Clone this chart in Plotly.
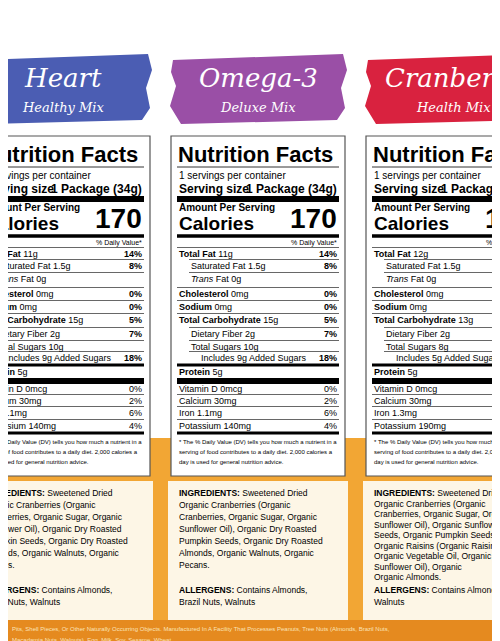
import plotly.graph_objects as go

W, H = 500, 641

# label data
mix_names = [("Heart", "Healthy Mix"), ("Omega-3", "Deluxe Mix"), ("Cranberry", "Health Mix")]
banner_colors = ["#4b5db3", "#9a4fa6", "#d9223f"]
panel_left = [-32, 163, 358]
calories = ["170", "170", "170"]
serving_size = "1 Package (34g)"

row_names = ["<b>Total Fat</b>", "Saturated Fat", "<i>Trans</i> Fat", "<b>Cholesterol</b>", "<b>Sodium</b>",
             "<b>Total Carbohydrate</b>", "Dietary Fiber", "Total Sugars", "Includes", "<b>Protein</b>"]
row_indent = [0, 1, 1, 0, 0, 0, 1, 1, 2, 0]
amounts_a = ["11g", "1.5g", "0g", "0mg", "0mg", "15g", "2g", "10g", "9g Added Sugars", "5g"]
amounts_c = ["12g", "1.5g", "0g", "0mg", "0mg", "13g", "2g", "8g", "5g Added Sugars", "5g"]
dv_a = ["14%", "8%", "", "0%", "0%", "5%", "7%", "", "18%", ""]
dv_c = ["15%", "8%", "", "0%", "0%", "5%", "7%", "", "10%", ""]
row_y = [246, 258, 271, 286, 299, 312, 326, 339, 350, 364]

vit_names = ["Vitamin D", "Calcium", "Iron", "Potassium"]
vit_a = ["0mcg", "30mg", "1.1mg", "140mg"]
vit_c = ["0mcg", "30mg", "1.3mg", "190mg"]
vit_dv_a = ["0%", "2%", "6%", "4%"]
vit_dv_c = ["0%", "2%", "8%", "4%"]
vit_y = [381, 393, 405, 418]

footnote = ["* The % Daily Value (DV) tells you how much a nutrient in a",
            "serving of food contributes to a daily diet. 2,000 calories a",
            "day is used for general nutrition advice."]

ingredients_a = ["<b>INGREDIENTS:</b> Sweetened Dried", "Organic Cranberries (Organic",
                 "Cranberries, Organic Sugar, Organic", "Sunflower Oil), Organic Dry Roasted",
                 "Pumpkin Seeds, Organic Dry Roasted", "Almonds, Organic Walnuts, Organic", "Pecans."]
ingredients_c = ["<b>INGREDIENTS:</b> Sweetened Dried", "Organic Cranberries (Organic",
                 "Cranberries, Organic Sugar, Organic", "Sunflower Oil), Organic Sunflower",
                 "Seeds, Organic Pumpkin Seeds,", "Organic Raisins (Organic Raisins,",
                 "Organic Vegetable Oil, Organic", "Sunflower Oil), Organic", "Organic Almonds."]
allergens_a = ["<b>ALLERGENS:</b> Contains Almonds,", "Brazil Nuts, Walnuts"]
allergens_c = ["<b>ALLERGENS:</b> Contains Almonds,", "Walnuts"]

bottom_text = ["Pits, Shell Pieces, Or Other Naturally Occurring Objects. Manufactured In A Facility That Processes Peanuts, Tree Nuts (Almonds, Brazil Nuts,",
               "Macadamia Nuts, Walnuts), Egg, Milk, Soy, Sesame, Wheat."]

FONT = "Liberation Sans, Arial"
px = lambda x: x / W
py = lambda y: 1 - y / H

fig = go.Figure()
shapes, annos = [], []


def rect(x0, y0, x1, y1, fill):
    shapes.append(dict(type="rect", xref="paper", yref="paper", x0=px(x0), x1=px(x1), y0=py(y1), y1=py(y0),
                       fillcolor=fill, line=dict(color=fill, width=0), layer="below"))


def hline(x0, x1, y, w):
    shapes.append(dict(type="line", xref="paper", yref="paper", x0=px(x0), x1=px(x1), y0=py(y), y1=py(y),
                       line=dict(color="black", width=w)))


def text(x, y, s, size=10, anchor="left", color="black", family=FONT):
    annos.append(dict(xref="paper", yref="paper", x=px(x), y=py(y), text=s, showarrow=False,
                      xanchor=anchor, yanchor="middle", font=dict(size=size, color=color, family=family)))


# background
rect(-5, -5, 505, 646, "white")
rect(-5, 430, 505, 646, "#f2a634")
rect(-5, 612, 505, 646, "#e58a1f")
for i, s in enumerate(bottom_text):
    text(2, 621 + i * 11, s, size=6, color="#fbe3b8")

for k, x0 in enumerate(panel_left):
    x1 = x0 + 174
    c = k == 2
    am, dv = (amounts_c, dv_c) if c else (amounts_a, dv_a)
    va, vd = (vit_c, vit_dv_c) if c else (vit_a, vit_dv_a)
    ing, alg = (ingredients_c, allergens_c) if c else (ingredients_a, allergens_a)

    # brush banner
    bx0, bx1 = x0 + 2, x1 - 2
    path = (f"M {px(bx0)},{py(52)} L {px(bx1)},{py(46)} L {px(bx1 + 4)},{py(62)} L {px(bx1 - 2)},{py(80)} "
            f"L {px(bx1 + 2)},{py(100)} L {px(bx1 - 6)},{py(112)} L {px(bx0 + 8)},{py(116)} "
            f"L {px(bx0 - 3)},{py(98)} L {px(bx0 + 3)},{py(78)} L {px(bx0 - 2)},{py(64)} Z")
    shapes.append(dict(type="path", xref="paper", yref="paper", path=path,
                       fillcolor=banner_colors[k], line=dict(width=0), layer="below"))
    cx = (x0 + x1) / 2
    text(cx, 70, f"<i>{mix_names[k][0]}</i>", size=26, anchor="center", color="white", family="DejaVu Serif")
    text(cx, 100, f"<i>{mix_names[k][1]}</i>", size=13, anchor="center", color="white", family="DejaVu Serif")

    # label card
    shapes.append(dict(type="rect", xref="paper", yref="paper", x0=px(x0), x1=px(x1), y0=py(468), y1=py(128),
                       fillcolor="white", line=dict(color="#555", width=1.2), layer="below"))
    L, R = x0 + 6, x1 - 6
    text(L - 1, 146, "<b>Nutrition Facts</b>", size=22)
    hline(L, R, 159, 0.8)
    text(L, 167, "1 servings per container", size=10)
    text(L, 181, "<b>Serving size</b>", size=12)
    text(R, 181, f"<b>{serving_size}</b>", size=12, anchor="right")
    hline(L, R, 191, 6)
    text(L, 200, "<b>Amount Per Serving</b>", size=10)
    text(L, 215, "<b>Calories</b>", size=19)
    text(R, 210, f"<b>{calories[k]}</b>", size=28, anchor="right")
    hline(L, R, 228, 3.5)
    text(R, 235, "% Daily Value*", size=7, anchor="right")
    for i, nm in enumerate(row_names):
        y = row_y[i]
        hline(L + (12 if row_indent[i] else 0), R, y - 6.5, 0.6)
        ind = [0, 12, 22][row_indent[i]]
        if i == 9:
            hline(L, R, y - 7, 3)
        text(L + ind, y, f"{nm} {am[i]}", size=9)
        if dv[i]:
            text(R, y, f"<b>{dv[i]}</b>", size=9, anchor="right")
    hline(L, R, 373, 6)
    for i, nm in enumerate(vit_names):
        y = vit_y[i]
        if i:
            hline(L, R, y - 6.5, 0.6)
        text(L, y, f"{nm} {va[i]}", size=9)
        text(R, y, vd[i], size=9, anchor="right")
    hline(L, R, 425, 3)
    for i, s in enumerate(footnote):
        text(L, 434 + i * 10, s, size=6)

    # ingredients card
    rect(x0 - 3, 473, x1 + 3, 612, "#fdf6e6")
    step = 10.5 if c else 12
    for i, s in enumerate(ing):
        text(L, 485 + i * step, s, size=8.5)
    for i, s in enumerate(alg):
        text(L, 582 + i * 11.5, s, size=8.5)

fig.update_layout(width=W, height=H, margin=dict(l=0, r=0, t=0, b=0), plot_bgcolor="white",
                  paper_bgcolor="white", shapes=shapes, annotations=annos, showlegend=False,
                  xaxis=dict(visible=False), yaxis=dict(visible=False))
fig.write_html("out.html")
